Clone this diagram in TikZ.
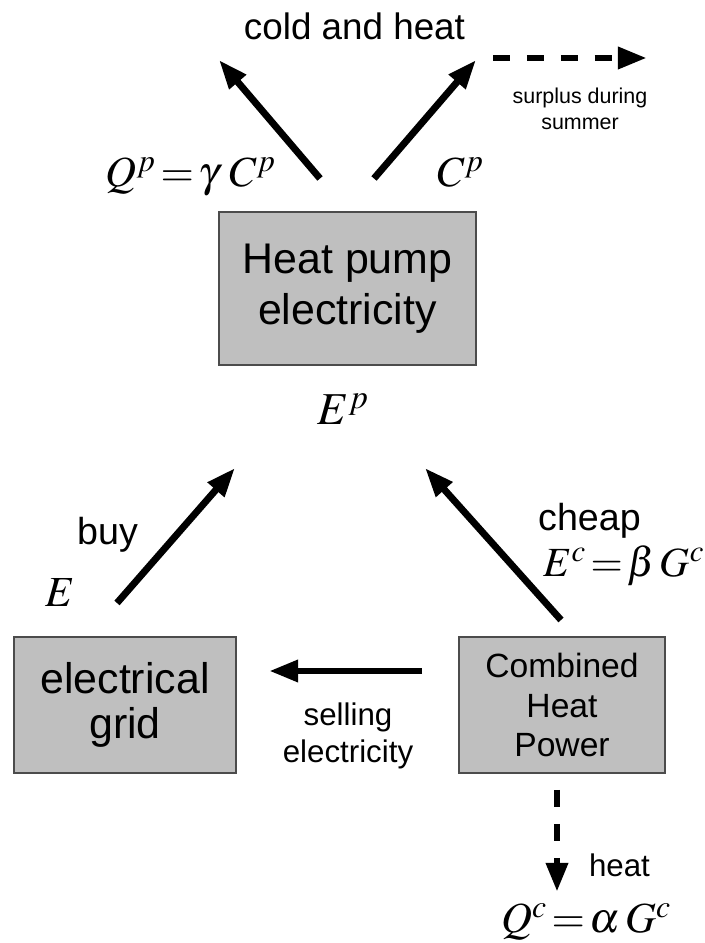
\documentclass[tikz,border=0pt]{standalone}
\usepackage{mathptmx}
\usepackage{fontspec}
\newfontfamily\helv{Liberation Sans}
\usetikzlibrary{arrows.meta}

\begin{document}
\begin{tikzpicture}[x=1in,y=1in,
  box/.style={draw=black!70, line width=0.8pt, fill=black!25, inner sep=0pt, align=center},
  flow/.style={line width=5pt, -{Triangle[length=21pt,width=15pt]}},
  dashflow/.style={flow, dash pattern=on 12.5pt off 12pt},
  lbl/.style={font=\helv\fontsize{27.2}{32}\selectfont, inner sep=0pt},
  small/.style={font=\helv\fontsize{22.6}{27.4}\selectfont, inner sep=0pt, align=center},
  eqn/.style={font=\fontsize{31}{36}\selectfont, inner sep=0pt}]
\useasboundingbox (0,0) rectangle (7.04,9.43);
% boxes
\node[box, minimum width=2.57in, minimum height=1.53in, font=\helv\fontsize{31}{36.7}\selectfont] (pump) at (3.475,6.545) {Heat pump\\electricity};
\node[box, minimum width=2.22in, minimum height=1.36in, font=\helv\fontsize{31}{32.4}\selectfont] (grid) at (1.25,2.38) {electrical\\grid};
\node[box, minimum width=2.06in, minimum height=1.36in, font=\helv\fontsize{24.3}{28.8}\selectfont] (chp) at (5.62,2.38) {Combined\\Heat\\Power};
% arrow ends
\coordinate (pumpL) at (3.20,7.645);
\coordinate (pumpR) at (3.74,7.645);
\coordinate (coldL) at (2.19,8.83);
\coordinate (coldR) at (4.76,8.83);
\coordinate (surA) at (4.93,8.85);
\coordinate (surB) at (6.47,8.85);
\coordinate (gridT) at (1.17,3.40);
\coordinate (pumpBL) at (2.35,4.75);
\coordinate (chpT) at (5.61,3.23);
\coordinate (pumpBR) at (4.25,4.75);
\coordinate (chpL) at (4.22,2.72);
\coordinate (gridR) at (2.69,2.72);
\coordinate (chpB) at (5.57,1.53);
\coordinate (heatQ) at (5.57,0.51);
% arrows
\draw[flow] (pumpL) -- (coldL);
\draw[flow] (pumpR) -- (coldR);
\draw[dashflow] (surA) -- (surB);
\draw[flow] (gridT) -- (pumpBL);
\draw[flow] (chpT) -- (pumpBR);
\draw[flow] (chpL) -- (gridR);
\draw[dashflow] (chpB) -- (heatQ);
% labels
\node[lbl, font=\helv\fontsize{26.6}{32}\selectfont, anchor=base] (cold) at (3.545,9.03) {cold and heat};
\node[font=\helv\fontsize{15.5}{19.4}\selectfont, inner sep=0pt, align=center, anchor=base] (surplus) at (5.80,8.13) {surplus during\\summer};
\node[eqn, anchor=base east] (qp) at (2.76,7.56) {$Q^p\mkern2mu{=}\mkern2mu\gamma\;C^p$};
\node[eqn, anchor=base west] (cp) at (4.37,7.56) {$C^p$};
\node[eqn, font=\fontsize{33}{38}\selectfont, anchor=base west] (ep) at (3.17,5.18) {$E^p$};
\node[lbl, anchor=base] (buy) at (1.075,3.98) {buy};
\node[eqn, anchor=base west] (e) at (0.45,3.36) {$E$};
\node[lbl, anchor=base] (cheap) at (5.895,4.12) {cheap};
\node[eqn, font=\fontsize{30}{36}\selectfont, anchor=base west] (ec) at (5.43,3.66) {$E^c\mkern2mu{=}\mkern2mu\beta\,G^c$};
\node[small, anchor=base] (sell) at (3.48,1.80) {selling\\electricity};
\node[small, anchor=base] (heat) at (6.195,0.66) {heat};
\node[eqn, anchor=base] (qc) at (5.86,0.10) {$Q^c\mkern2mu{=}\mkern2mu\alpha\,G^c$};
\end{tikzpicture}
\end{document}
